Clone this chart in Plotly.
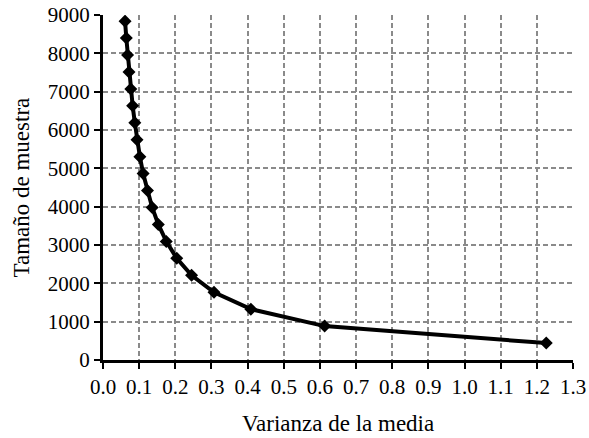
import plotly.graph_objects as go

varianza = [1.226, 0.613, 0.409, 0.307, 0.245, 0.204, 0.175, 0.153, 0.136, 0.123,
            0.111, 0.102, 0.094, 0.088, 0.082, 0.077, 0.072, 0.068, 0.0645, 0.061]
tamano = [442, 884, 1326, 1768, 2210, 2652, 3094, 3536, 3978, 4420,
          4862, 5304, 5746, 6188, 6630, 7072, 7514, 7956, 8398, 8840]

x_ticks = [round(i * 0.1, 1) for i in range(14)]
x_labels = [f"{v:.1f}" for v in x_ticks]
y_ticks = list(range(0, 9001, 1000))

fig = go.Figure()
fig.add_trace(go.Scatter(
    x=varianza, y=tamano, mode="lines+markers",
    line=dict(color="black", width=4),
    marker=dict(symbol="diamond", size=10, color="black"),
    showlegend=False,
))

font = "Liberation Serif"
L, R, T, B = 103, 16, 15, 78
grid = dict(showgrid=True, gridcolor="#8a8a8a", griddash="5px,3px", gridwidth=1.5)
fig.update_layout(
    width=589, height=438,
    margin=dict(l=L, r=R, t=T, b=B, autoexpand=False),
    paper_bgcolor="white", plot_bgcolor="white",
    font=dict(family=font, color="black", size=21),
    xaxis=dict(
        range=[0, 1.3], tickvals=x_ticks, ticktext=x_labels,
        showline=True, linecolor="black", linewidth=3,
        ticks="outside", ticklen=6, tickwidth=2, tickcolor="black",
        zeroline=False, automargin=False,
        tickfont=dict(family=font, size=21, color="black"),
        **grid,
    ),
    yaxis=dict(
        range=[0, 9000], tickvals=y_ticks,
        showline=True, linecolor="black", linewidth=3,
        ticks="outside", ticklen=6, tickwidth=2, tickcolor="black",
        zeroline=False, automargin=False,
        tickfont=dict(family=font, size=21, color="black"),
        **grid,
    ),
    annotations=[
        dict(text="Varianza de la media", xref="paper", yref="paper",
             x=0.5, y=-(423 - (438 - B)) / (438 - T - B), xanchor="center", yanchor="middle",
             showarrow=False, font=dict(family=font, size=23, color="black")),
        dict(text="Tamaño de muestra", xref="paper", yref="paper",
             x=-(L - 21) / (589 - L - R), y=0.5, xanchor="center", yanchor="middle",
             textangle=-90, showarrow=False, font=dict(family=font, size=23, color="black")),
    ],
)
fig.write_html("out.html")
